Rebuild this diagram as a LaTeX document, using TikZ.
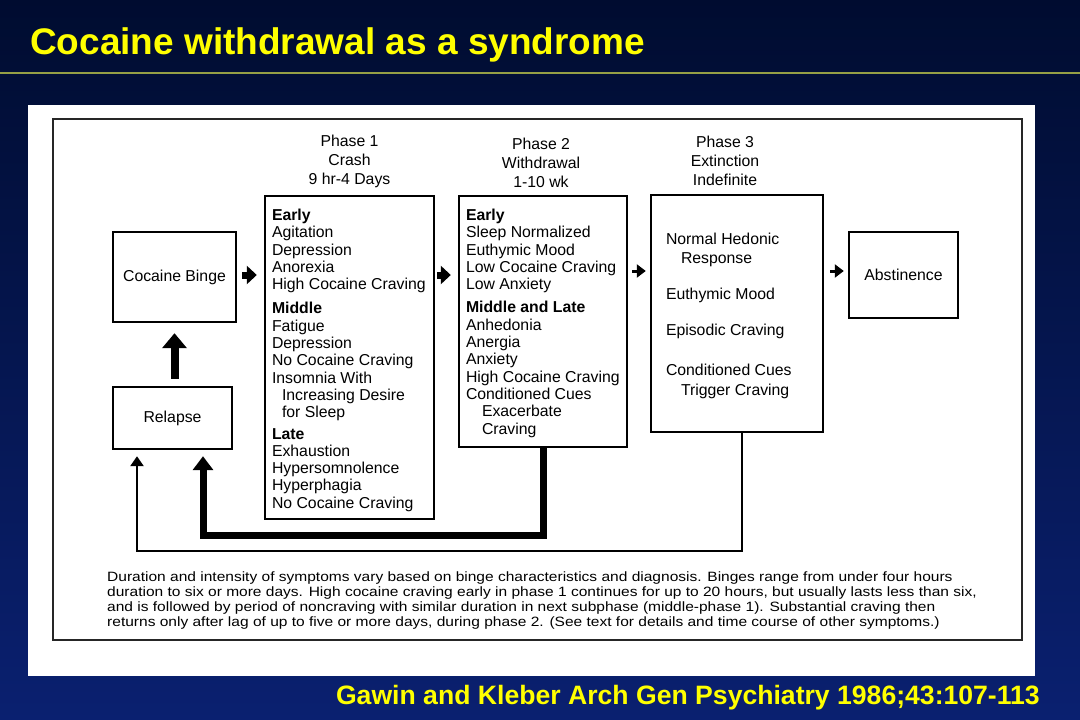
\documentclass[tikz,border=0pt]{standalone}
\usepackage{fontspec}
\setmainfont{Liberation Sans}
\newfontfamily\capfont[FakeStretch=1.15]{Liberation Sans}
\usetikzlibrary{arrows.meta,positioning,calc}
\definecolor{slidetop}{RGB}{0,12,48}
\definecolor{slidebot}{RGB}{10,32,112}
\definecolor{titleyellow}{RGB}{255,255,0}
\definecolor{ruleolive}{RGB}{150,160,70}
\newcommand{\txt}{\fontsize{15.8}{17.3}\selectfont}
\newcommand{\hd}{\fontsize{15.8}{19}\selectfont}

\begin{document}
\begin{tikzpicture}[x=1pt, y=-1pt, line join=miter,
        box/.style={draw, line width=2.4pt, inner sep=0pt, font=\txt},
        list/.style={inner sep=0pt, align=left, font=\txt, anchor=north west},
        phase/.style={inner sep=0pt, align=center, font=\hd, anchor=south},
        fatarrow/.style={line width=7pt, -{Triangle[length=10pt,width=18pt]}},
        thinarrow/.style={line width=3pt, -{Triangle[length=9pt,width=13pt]}},
        bigup/.style={line width=8pt, -{Triangle[length=15pt,width=24pt]}},
        loopfat/.style={line width=7pt, -{Triangle[length=14pt,width=20pt]}},
        loopthin/.style={line width=2.5pt, -{Triangle[length=10pt,width=13pt]}}]

    % slide background
    \useasboundingbox (0,0) rectangle (1080,720);
    \shade[top color=slidetop, bottom color=slidebot] (0,0) rectangle (1080,720);
    \node[anchor=west, inner sep=0pt, text=titleyellow, font=\fontsize{37}{40}\selectfont\bfseries] (title) at (30,45) {Cocaine withdrawal as a syndrome};
    \draw[ruleolive, line width=2pt] (0,73) -- (1080,73);
    \fill[white] (28,105) rectangle (1035,676);
    \draw[line width=1.5pt, black!85] (53,119) rectangle (1022,640);

    % boxes
    \node[box, minimum width=123pt, minimum height=90pt] (binge) at (174.5,277) {Cocaine Binge};
    \node[box, minimum width=119pt, minimum height=62pt] (relapse) at (172.5,418) {Relapse};
    \node[box, minimum width=169pt, minimum height=323pt] (ph1) at (349.5,357.5) {};
    \node[box, minimum width=168pt, minimum height=251pt] (ph2) at (543,321.5) {};
    \node[box, minimum width=172pt, minimum height=237pt] (ph3) at (737,313.5) {};
    \node[box, minimum width=109pt, minimum height=86pt] (abst) at (903.5,275) {Abstinence};

    % phase headers
    \node[phase] (ph1head) at ([yshift=7pt]ph1.north) {Phase 1\\Crash\\9 hr-4 Days};
    \node[phase] (ph2head) at ([xshift=-2pt,yshift=7pt]ph2.north) {Phase 2\\Withdrawal\\1-10 wk};
    \node[phase] (ph3head) at ([xshift=-12pt,yshift=8pt]ph3.north) {Phase 3\\Extinction\\Indefinite};

    % symptoms
    \node[list] (ph1txt) at ([xshift=8pt,yshift=-14pt]ph1.north west) {\textbf{Early}\\Agitation\\Depression\\Anorexia\\High Cocaine Craving\\[7pt]
        \textbf{Middle}\\Fatigue\\Depression\\No Cocaine Craving\\Insomnia With\\\hspace*{10pt}Increasing Desire\\\hspace*{10pt}for Sleep\\[4pt]
        \textbf{Late}\\Exhaustion\\Hypersomnolence\\Hyperphagia\\No Cocaine Craving};
    \node[list] (ph2txt) at ([xshift=8pt,yshift=-14pt]ph2.north west) {\textbf{Early}\\Sleep Normalized\\Euthymic Mood\\Low Cocaine Craving\\Low Anxiety\\[6pt]
        \textbf{Middle and Late}\\Anhedonia\\Anergia\\Anxiety\\High Cocaine Craving\\Conditioned Cues\\\hspace*{16pt}Exacerbate\\\hspace*{16pt}Craving};
    \node[list, font=\fontsize{15.8}{19.5}\selectfont] (ph3txt) at ([xshift=16pt,yshift=-39pt]ph3.north west) {Normal Hedonic\\\hspace*{15pt}Response\\[16pt]
        Euthymic Mood\\[17pt]Episodic Craving\\[20pt]Conditioned Cues\\[1pt]\hspace*{15pt}Trigger Craving};

    % caption
    \node[anchor=north west, inner sep=0pt, align=left, font=\capfont\fontsize{13.5}{15}\selectfont] (note) at (107,572)
        {Duration and intensity of symptoms vary based on binge characteristics and diagnosis. Binges range from under four hours\\
        duration to six or more days. High cocaine craving early in phase 1 continues for up to 20 hours, but usually lasts less than six,\\
        and is followed by period of noncraving with similar duration in next subphase (middle-phase 1). Substantial craving then\\
        returns only after lag of up to five or more days, during phase 2. (See text for details and time course of other symptoms.)};
    \node[anchor=east, inner sep=0pt, text=titleyellow, font=\fontsize{26.6}{28}\selectfont\bfseries] (cite) at (1040,698) {Gawin and Kleber Arch Gen Psychiatry 1986;43:107-113};

    % connectors
    \coordinate (fatrowtop) at (0,275);
    \coordinate (row) at (0,271);
    \coordinate (fatrow) at (0,535);
    \coordinate (thinrow) at (0,551);
    \coordinate (ph3foot) at ([xshift=5pt]ph3.south);
    \draw[fatarrow, shorten <=5pt, shorten >=7pt] (fatrowtop -| binge.east) -- (fatrowtop -| ph1.west);
    \draw[fatarrow, shorten <=2pt, shorten >=7pt] (fatrowtop -| ph1.east) -- (fatrowtop -| ph2.west);
    \draw[thinarrow, shorten <=4pt, shorten >=4pt] (row -| ph2.east) -- (row -| ph3.west);
    \draw[thinarrow, shorten <=6pt, shorten >=4pt] (row -| ph3.east) -- (row -| abst.west);
    \draw[bigup, shorten <=7pt, shorten >=10pt] ([xshift=2pt]relapse.north) -- (binge.south);
    \draw[loopfat, shorten >=6pt] (ph2.south) -- (fatrow -| ph2.south) -| ([xshift=30.5pt]relapse.south);
    \draw[loopthin, shorten >=6pt] (ph3foot) -- (thinrow -| ph3foot) -| ([xshift=-35.5pt]relapse.south);
\end{tikzpicture}
\end{document}
